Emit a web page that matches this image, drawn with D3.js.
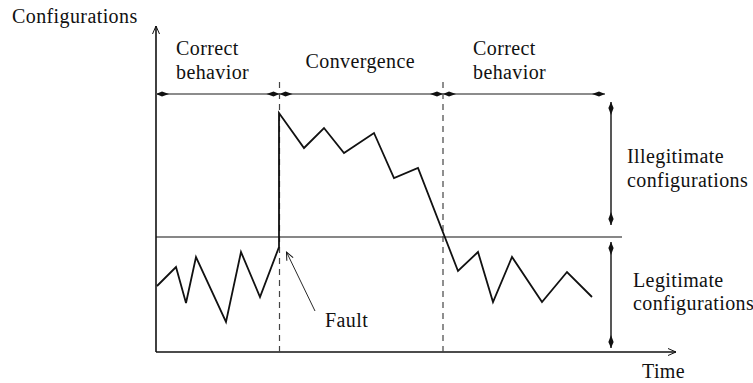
<!DOCTYPE html>
<html>
<head>
<meta charset="utf-8">
<script src="https://cdn.jsdelivr.net/npm/d3@7"></script>
<style>
  body { margin: 0; background: #fff; }
  svg text { font-family: "Liberation Serif", "DejaVu Serif", serif; font-size: 20px; letter-spacing: 0.4px; fill: #111; }
</style>
</head>
<body>
<script>
// data (time units, configuration units)
var times  = [1, 20, 30, 40, 70, 85, 104, 123, 123, 148, 168, 188, 218, 238, 262, 302, 322, 337, 356, 386, 411, 436];
var values = [66, 85, 49, 95, 30, 100, 55, 105, 239, 204, 224, 199, 219, 174, 184, 81, 100, 50, 95, 50, 80, 55];
var threshold = 115;
var phaseBounds = [0, 123.5, 287, 449];
var phaseLabels = [["Correct", "behavior"], ["Convergence"], ["Correct", "behavior"]];
var zoneLabels = [["Illegitimate", "configurations"], ["Legitimate", "configurations"]];
var tMax = 520, cMax = 326;

var width = 753, height = 383;
var x = d3.scaleLinear().domain([0, tMax]).range([156, 676]);
var y = d3.scaleLinear().domain([0, cMax]).range([352, 26]);

var svg = d3.select('body').append('svg')
    .attr('width', width)
    .attr('height', height);

var defs = svg.append('defs');
defs.append('marker')
    .attr('id', 'diamond')
    .attr('markerUnits', 'userSpaceOnUse')
    .attr('viewBox', '-14 -4 15 8')
    .attr('refX', 0).attr('refY', 0)
    .attr('markerWidth', 15).attr('markerHeight', 8)
    .attr('orient', 'auto-start-reverse')
  .append('path')
    .attr('d', 'M0,0 L-6,-2.6 L-13,0 L-6,2.6 Z')
    .attr('fill', '#111');
defs.append('marker')
    .attr('id', 'open')
    .attr('markerUnits', 'userSpaceOnUse')
    .attr('viewBox', '-10 -5 11 10')
    .attr('refX', 0).attr('refY', 0)
    .attr('markerWidth', 11).attr('markerHeight', 10)
    .attr('orient', 'auto')
  .append('path')
    .attr('d', 'M-8,-3.5 L0,0 L-8,3.5')
    .attr('fill', 'none')
    .attr('stroke', '#111')
    .attr('stroke-width', 1);

//Axes
svg.append('line')
    .attr('x1', x(0)).attr('y1', y(0))
    .attr('x2', x(0)).attr('y2', y(cMax))
    .attr('stroke', '#111').attr('stroke-width', 1.6)
    .attr('marker-end', 'url(#open)');
svg.append('line')
    .attr('x1', x(0)).attr('y1', y(0))
    .attr('x2', x(tMax)).attr('y2', y(0))
    .attr('stroke', '#111').attr('stroke-width', 1.6)
    .attr('marker-end', 'url(#open)');

svg.append('text').attr('x', 12).attr('y', 23).text('Configurations');
svg.append('text').attr('x', 642).attr('y', 378).text('Time');

//Threshold line
svg.append('line')
    .attr('x1', x(0)).attr('y1', y(threshold))
    .attr('x2', x(466)).attr('y2', y(threshold))
    .attr('stroke', '#111').attr('stroke-width', 1.2);

//Dashed phase boundaries
svg.selectAll('.phase-line')
    .data(phaseBounds.slice(1, 3)).enter()
    .append('line')
    .attr('class', 'phase-line')
    .attr('x1', function(d) { return x(d); })
    .attr('x2', function(d) { return x(d); })
    .attr('y1', y(270)).attr('y2', y(0))
    .attr('stroke', '#444').attr('stroke-width', 1.2)
    .attr('stroke-dasharray', '6,5');

//Phase double arrows
var arrowLevel = 258;
svg.selectAll('.phase-arrow')
    .data(d3.range(3)).enter()
    .append('line')
    .attr('class', 'phase-arrow')
    .attr('x1', function(i) { return x(phaseBounds[i]); })
    .attr('x2', function(i) { return x(phaseBounds[i + 1]); })
    .attr('y1', y(arrowLevel)).attr('y2', y(arrowLevel))
    .attr('stroke', '#666').attr('stroke-width', 1.6)
    .attr('marker-start', 'url(#diamond)')
    .attr('marker-end', 'url(#diamond)');

var phaseTextX = [176, 305.5, 473];
var phaseTextY = [[55, 79], [68], [55, 79]];
phaseLabels.forEach(function(lines, i) {
  lines.forEach(function(s, j) {
    svg.append('text')
      .attr('x', phaseTextX[i])
      .attr('y', phaseTextY[i][j])
      .text(s);
  });
});

//Zone double arrows
var zoneRanges = [[250, 127], [110, 4]];
var zoneX = 455;
svg.selectAll('.zone-arrow')
    .data(zoneRanges).enter()
    .append('line')
    .attr('class', 'zone-arrow')
    .attr('x1', x(zoneX)).attr('x2', x(zoneX))
    .attr('y1', function(d) { return y(d[0]); })
    .attr('y2', function(d) { return y(d[1]); })
    .attr('stroke', '#111').attr('stroke-width', 1.4)
    .attr('marker-start', 'url(#diamond)')
    .attr('marker-end', 'url(#diamond)');

var zoneTextX = [627, 633];
var zoneTextY = [[163, 187], [287, 310]];
zoneLabels.forEach(function(lines, i) {
  lines.forEach(function(s, j) {
    svg.append('text')
      .attr('x', zoneTextX[i])
      .attr('y', zoneTextY[i][j])
      .text(s);
  });
});

//Configuration trace
var line = d3.line()
    .x(function(d) { return x(d[0]); })
    .y(function(d) { return y(d[1]); });

svg.append('path')
    .datum(d3.zip(times, values))
    .attr('fill', 'none')
    .attr('stroke', '#111')
    .attr('stroke-width', 1.8)
    .attr('stroke-linejoin', 'miter')
    .attr('d', line);

//Fault annotation
svg.append('line')
    .attr('x1', x(159)).attr('y1', y(41))
    .attr('x2', x(130.5)).attr('y2', y(100))
    .attr('stroke', '#111').attr('stroke-width', 0.9)
    .attr('marker-end', 'url(#open)');
svg.append('text').attr('x', 325).attr('y', 327).text('Fault');
</script>
</body>
</html>
